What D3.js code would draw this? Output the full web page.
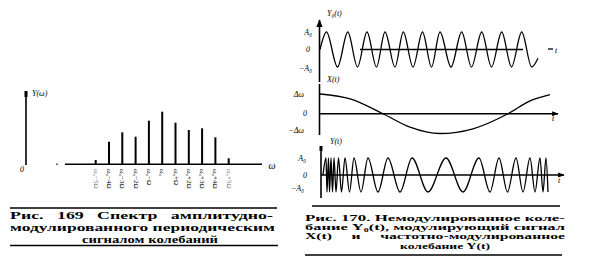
<!DOCTYPE html>
<html lang="ru">
<head>
<meta charset="UTF-8">
<title>Рис. 169, 170</title>
<script src="https://d3js.org/d3.v7.min.js"></script>
<style>
  body { margin: 0; background: #fff; }
  text { font-family: "Liberation Serif", "DejaVu Serif", serif; fill: #000; white-space: pre; }
  .cap { font-weight: bold; font-size: 10px; }
  .cap2 { font-weight: bold; font-size: 8.6px; }
  .lbl { font-style: italic; font-size: 8px; }
</style>
</head>
<body>
<script>
// --- Рис. 169: спектр ---
var specLabels = ["ω₀−5Ω", "ω₀−4Ω", "ω₀−3Ω", "ω₀−2Ω", "ω₀−Ω", "ω₀", "ω₀+Ω", "ω₀+2Ω", "ω₀+3Ω", "ω₀+4Ω", "ω₀+5Ω"];
var specAmps = [4.3, 22.6, 32, 27.6, 43.6, 52.6, 41.6, 34.3, 36, 27, 6];

// --- Рис. 170: экстремумы кривых ---
// Y0(t): немодулированное колебание
var y0T = [0, 6.5, 17.5, 27.8, 37.5, 47, 56.5, 65, 75, 83.3, 93, 102.5, 111.5, 120, 131, 141.7, 151.5, 161.7, 171.5, 181.7, 191.5, 201.7, 211.7, 218];
var y0V = [0, 1, -1, 1, -1, 1, -1, 1, -1, 1, -1, 1, -1, 1, -1, 1, -1, 1, -1, 1, -1, 1, -1, -0.5];
// X(t): модулирующий сигнал
var xT = [0, 31, 63, 90, 120, 153, 188, 210, 230];
var xV = [1, 0.74, 0, -0.68, -1, -0.76, 0, 0.65, 0.97];
// Y(t): частотно-модулированное колебание
var fmT = [3, 6, 7, 8.5, 9.5, 11, 12.5, 14, 16, 18.5, 21.5, 25, 29.5, 34, 41, 48, 58, 68, 80, 92, 108, 126, 143, 159, 170, 179, 187.5, 196, 203, 210, 215, 220, 223, 226, 228];
var fmV = [0, 1, -1, 1, -1, 1, -1, 1, -1, 1, -1, 1, -1, 1, -1, 1, -1, 1, -1, 1, -1, 1, -1, 1, -1, 1, -1, 1, -1, 1, -1, 1, -1, 1, -1];

var cap169 = ["Рис.   169   Спектр   амплитудно-", "модулированного периодическим", "сигналом колебаний"];
var cap170 = ["Рис. 170. Немодулированное коле-", "бание Y₀(t), модулирующий сигнал", "X(t)     и     частотно-модулированное", "колебание Y(t)"];

var svg = d3.select("body").append("svg")
  .attr("width", 595)
  .attr("height", 273);

svg.append("defs").append("marker")
  .attr("id", "arr")
  .attr("viewBox", "0 0 10 10")
  .attr("refX", 9).attr("refY", 5)
  .attr("markerWidth", 5).attr("markerHeight", 5)
  .attr("orient", "auto")
  .append("path")
  .attr("d", "M0,1 L10,5 L0,9 Z")
  .attr("fill", "#000");

function line(x1, y1, x2, y2, w, arrow) {
  var l = svg.append("line")
    .attr("x1", x1).attr("y1", y1).attr("x2", x2).attr("y2", y2)
    .attr("stroke", "#000").attr("stroke-width", w || 1.3);
  if (arrow) l.attr("marker-end", "url(#arr)");
  return l;
}
function label(x, y, t, cls, anchor) {
  return svg.append("text").attr("x", x).attr("y", y)
    .attr("class", cls || "lbl")
    .attr("text-anchor", anchor || "start")
    .text(t);
}

// ===== Рис. 169 =====
var sx = d3.scalePoint().domain(specLabels).range([95.7, 228.7]);
var sy = d3.scaleLinear().domain([0, 60]).range([164.3, 104.3]);

line(26, 91, 26, 165, 1.6);
svg.append("rect").attr("x", 24.5).attr("y", 91).attr("width", 3).attr("height", 6);
label(32, 96, "Y(ω)");
label(22, 172, "0", "lbl", "middle");
line(65, sy(0), 262, sy(0), 1.5);
svg.append("circle").attr("cx", 57).attr("cy", sy(0)).attr("r", 0.8);
label(272, 169, "ω", "lbl", "middle").style("font-size", "10px");

svg.selectAll(".spec").data(specAmps).enter().append("line")
  .attr("class", "spec")
  .attr("x1", function(d, i) { return sx(specLabels[i]); })
  .attr("x2", function(d, i) { return sx(specLabels[i]); })
  .attr("y1", sy(0))
  .attr("y2", function(d) { return sy(d); })
  .attr("stroke", "#000")
  .attr("stroke-width", 2);

svg.selectAll(".slab").data(specLabels).enter().append("text")
  .attr("class", "slab")
  .attr("transform", function(d) { return "translate(" + (sx(d) - 2) + ",169) rotate(90)"; })
  .style("font-size", "7px")
  .style("fill", function(d, i) { return (i === 0 || i === 10) ? "#777" : "#000"; })
  .text(function(d) { return d; });

line(10, 208, 277, 208, 1.4);
line(10, 245.5, 278, 245.5, 1.4);
label(10, 218.5, cap169[0], "cap").attr("textLength", 263).attr("lengthAdjust", "spacingAndGlyphs");
label(10, 230.5, cap169[1], "cap").attr("textLength", 265).attr("lengthAdjust", "spacingAndGlyphs");
label(82, 242.5, cap169[2], "cap").attr("textLength", 136).attr("lengthAdjust", "spacingAndGlyphs");

// ===== Рис. 170 =====
var tx = d3.scaleLinear().domain([0, 240]).range([320, 560]);
var yTop = d3.scaleLinear().domain([-1, 1]).range([67, 32]);
var yMid = d3.scaleLinear().domain([-1, 1]).range([133.5, 94]);
var yBot = d3.scaleLinear().domain([-1, 1]).range([192, 158]);

function curve(T, V, ys) {
  var pts = T.map(function(t, i) { return [t, V[i]]; });
  svg.append("path")
    .datum(pts)
    .attr("fill", "none")
    .attr("stroke", "#000")
    .attr("stroke-width", 1.3)
    .attr("d", d3.line()
      .x(function(d) { return tx(d[0]); })
      .y(function(d) { return ys(d[1]); })
      .curve(d3.curveMonotoneX));
}

// Y0(t)
line(319.5, 82, 319.5, 20, 1.6, true);
label(327, 16, "Y₀(t)");
label(312, 35, "A₀", "lbl", "end");
label(310, 52, "0", "lbl", "end");
label(312, 71, "−A₀", "lbl", "end");
line(360, yTop(0), 523, yTop(0), 1.3);
line(548, 49, 553, 49, 1.3);
label(555, 53, "t");
curve(y0T, y0V, yTop);

// X(t)
line(319.5, 135, 319.5, 84, 1.6);
label(327, 82, "X(t)");
label(304, 97, "Δω", "lbl", "end");
label(307, 116, "0", "lbl", "end");
label(304, 133, "−Δω", "lbl", "end");
line(319.5, yMid(0), 558, yMid(0), 1.3, true);
label(552, 121, "t");
curve(xT, xV, yMid);

// Y(t)
line(321, 198, 321, 147, 1.6);
svg.append("rect").attr("x", 319.5).attr("y", 146).attr("width", 3).attr("height", 5);
label(330, 144, "Y(t)");
label(306, 161, "A₀", "lbl", "end");
label(307, 178, "0", "lbl", "end");
label(304, 191, "−A₀", "lbl", "end");
line(321, yBot(0), 564, yBot(0), 1.3, true);
label(558, 183, "t");
curve(fmT, fmV, yBot);

line(312, 206, 560, 206, 1.4);
line(305, 255, 562, 255, 1.4);
label(305, 220.5, cap170[0], "cap2").attr("textLength", 260).attr("lengthAdjust", "spacingAndGlyphs");
label(305, 229.8, cap170[1], "cap2").attr("textLength", 260).attr("lengthAdjust", "spacingAndGlyphs");
label(305, 239.1, cap170[2], "cap2").attr("textLength", 260).attr("lengthAdjust", "spacingAndGlyphs");
label(400, 248.7, cap170[3], "cap2").attr("textLength", 90).attr("lengthAdjust", "spacingAndGlyphs");
</script>
</body>
</html>
